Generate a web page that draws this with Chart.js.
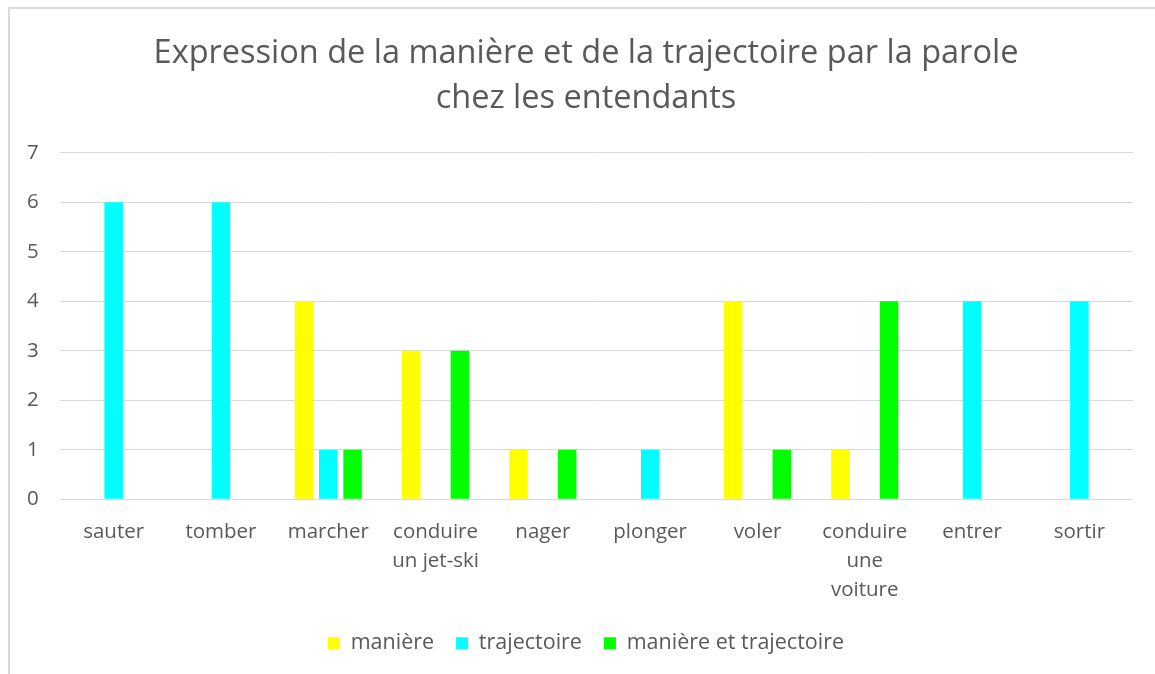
<!DOCTYPE html>
<html>
<head>
<meta charset="utf-8">
<script src="https://cdn.jsdelivr.net/npm/chart.js@4"></script>
<style>
  html, body { margin: 0; padding: 0; background: #fff; overflow: hidden; }
  #wrap { position: absolute; left: 0; top: 0; width: 1155px; height: 674px; }
  #frame { position: absolute; left: 8px; top: 7px; width: 1170px; height: 690px; border: 2px solid #d9d9d9; box-sizing: border-box; }
  canvas { position: absolute; left: 0; top: 0; }
</style>
</head>
<body>
<div id="wrap">
  <div id="frame"></div>
  <canvas id="chart" width="1155" height="674"></canvas>
</div>
<script>
const categories = ['sauter', 'tomber', 'marcher', ['conduire', 'un jet-ski'], 'nager', 'plonger', 'voler', ['conduire', 'une', 'voiture'], 'entrer', 'sortir'];
const maniere = [0, 0, 4, 3, 1, 0, 4, 1, 0, 0];
const trajectoire = [6, 6, 1, 0, 0, 1, 0, 0, 4, 4];
const maniereEtTrajectoire = [0, 0, 1, 3, 1, 0, 1, 4, 0, 0];
const seriesNames = ['manière', 'trajectoire', 'manière et trajectoire'];
const yTicks = [0, 1, 2, 3, 4, 5, 6, 7];

const textColor = '#595959';
const fontFamily = "'Open Sans', 'Liberation Sans', sans-serif";

function bars(label, data, color) {
  return {
    label: label,
    data: data,
    backgroundColor: color,
    borderWidth: 0,
    barPercentage: 0.76,
    categoryPercentage: 0.68
  };
}

new Chart(document.getElementById('chart'), {
  type: 'bar',
  data: {
    labels: categories,
    datasets: [
      bars(seriesNames[0], maniere, '#ffff00'),
      bars(seriesNames[1], trajectoire, '#00ffff'),
      bars(seriesNames[2], maniereEtTrajectoire, '#00ff00')
    ]
  },
  options: {
    responsive: false,
    animation: false,
    // left padding is wide so title and legend sit right of centre, as in the original
    layout: { padding: { left: 39, right: 22, top: 31, bottom: 10 } },
    plugins: {
      title: {
        display: true,
        text: ['Expression de la manière et de la trajectoire par la parole', 'chez les entendants'],
        color: textColor,
        font: { family: fontFamily, size: 32.5, weight: 'normal', lineHeight: 1.38 },
        padding: { top: 0, bottom: 32 }
      },
      legend: {
        position: 'bottom',
        labels: {
          color: textColor,
          font: { family: fontFamily, size: 21.5 },
          boxWidth: 12,
          boxHeight: 12,
          padding: 22
        }
      },
      tooltip: { enabled: false }
    },
    scales: {
      x: {
        grid: { display: false, drawTicks: false },
        border: { display: false },
        afterFit: (scale) => { scale.height -= 12; },
        ticks: {
          color: textColor,
          font: { family: fontFamily, size: 20.5, lineHeight: 1.42 },
          padding: 18,
          maxRotation: 0,
          autoSkip: false
        }
      },
      y: {
        min: yTicks[0],
        max: yTicks[yTicks.length - 1],
        grid: { color: '#d9d9d9', lineWidth: 1, drawTicks: false },
        border: { display: false },
        afterBuildTicks: (axis) => { axis.ticks = yTicks.map(v => ({ value: v })); },
        afterFit: (scale) => { scale.width = 21; },
        ticks: {
          color: textColor,
          font: { family: fontFamily, size: 20.5 },
          mirror: true,   // mirrored labels are not clipped to the narrow axis box
          padding: -33
        }
      }
    }
  }
});
</script>
</body>
</html>
